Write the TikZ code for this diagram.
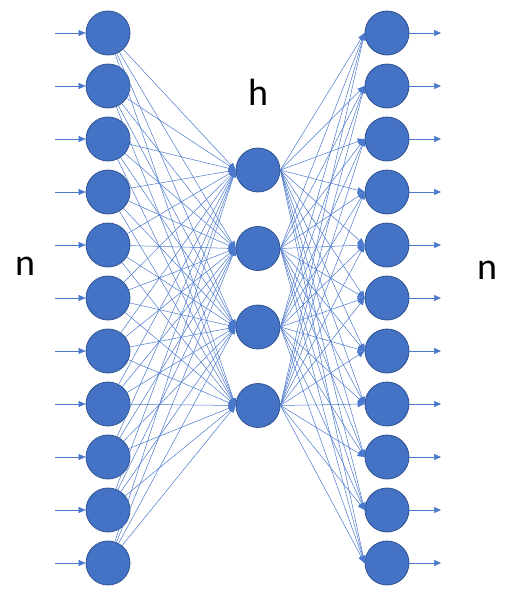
\documentclass[tikz,border=0pt]{standalone}
\usepackage{fontspec}
\setmainfont{Carlito}
\usetikzlibrary{arrows.meta}
\definecolor{nodeblue}{HTML}{4472C4}
\definecolor{nodeedge}{HTML}{2F528F}
\definecolor{lineblue}{HTML}{4A78CC}

\begin{document}
\begin{tikzpicture}[x=1pt,y=-1pt,-{Triangle[length=7pt,width=6pt]},line width=0.5pt,draw=lineblue,main node/.style={circle,draw=nodeedge,fill=nodeblue,minimum size=44pt,inner sep=0pt,line width=0.8pt},big label/.style={font=\fontsize{38}{40}\selectfont,text=black}]
			\useasboundingbox (0,0) rectangle (507,600);
			
			\foreach \i in {1,...,11} {
				\node[main node] (l\i) at (108,{33+53*(\i-1)}) {};
				\node[main node] (r\i) at (387,{33+53*(\i-1)}) {};
				\coordinate (in\i) at (55,{33+53*(\i-1)});
				\coordinate (out\i) at (441,{33+53*(\i-1)});
			}
			\foreach \j in {1,...,4}
				\node[main node] (h\j) at (258,{170+78.5*(\j-1)}) {};
			
			\node[big label] (nin) at (25,266) {n};
			\node[big label] (hid) at (258,92) {h};
			\node[big label] (nout) at (487,270) {n};
			
			\foreach \i in {1,...,11} {
				\draw (in\i) -- (l\i);
				\draw (r\i) -- (out\i);
				\foreach \j in {1,...,4} {
					\draw (l\i) -- (h\j.west);
					\draw (h\j.east) -- (r\i.west);
				}
			}
			\end{tikzpicture}
\end{document}
